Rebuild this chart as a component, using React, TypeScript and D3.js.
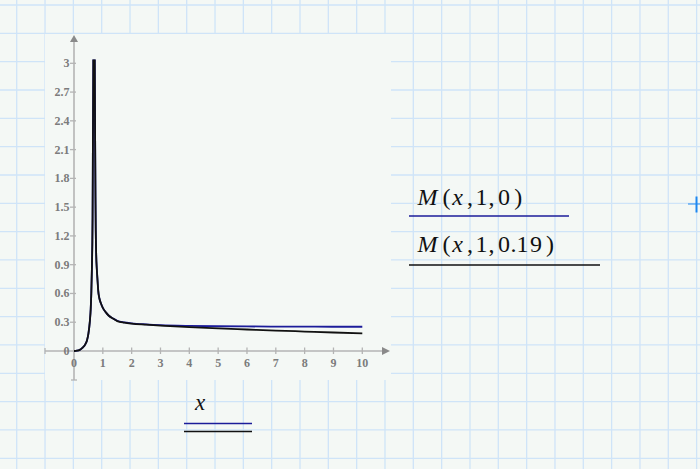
import React from 'react';
import * as d3 from 'd3';

// ---- data ----
const xValues = [0, 0.1, 0.2, 0.3, 0.4, 0.45, 0.5, 0.55, 0.58, 0.6, 0.62, 0.635, 0.645, 0.655, 0.67, 0.68, 0.695, 0.71, 0.72, 0.735, 0.745, 0.755, 0.77, 0.79, 0.82, 0.84, 0.88, 0.93, 1.0, 1.1, 1.2, 1.35, 1.5, 1.75, 2, 2.5, 3, 4, 5, 6, 7, 8, 9, 10];
const mUndamped = [0, 0.003, 0.012, 0.035, 0.075, 0.11, 0.18, 0.31, 0.44, 0.6, 0.85, 1.1, 1.4, 2.1, 3.0, 4.0, 6.0, 4.0, 3.0, 2.1, 1.6, 1.25, 1.0, 0.86, 0.72, 0.63, 0.55, 0.5, 0.45, 0.405, 0.37, 0.34, 0.315, 0.298, 0.289, 0.278, 0.27, 0.262, 0.258, 0.256, 0.255, 0.254, 0.253, 0.253];
const mDamped = [0, 0.003, 0.012, 0.035, 0.075, 0.11, 0.18, 0.31, 0.44, 0.6, 0.85, 1.1, 1.4, 2.1, 3.0, 4.0, 5.8, 4.0, 3.0, 2.1, 1.6, 1.25, 1.0, 0.86, 0.72, 0.63, 0.55, 0.5, 0.45, 0.405, 0.37, 0.338, 0.312, 0.295, 0.285, 0.274, 0.264, 0.248, 0.235, 0.224, 0.213, 0.203, 0.193, 0.184];
const xTicks = [0, 1, 2, 3, 4, 5, 6, 7, 8, 9, 10];
const xTickLabels = ['0', '1', '2', '3', '4', '5', '6', '7', '8', '9', '10'];
const yTicks = [0, 0.3, 0.6, 0.9, 1.2, 1.5, 1.8, 2.1, 2.4, 2.7, 3];
const yTickLabels = ['0', '0.3', '0.6', '0.9', '1.2', '1.5', '1.8', '2.1', '2.4', '2.7', '3'];
// legend glyphs: [char, italic]
const legend1 = [['M', true], ['(', false], ['x', true], [',', false], ['1', false], [',', false], ['0', false], [')', false]];
const legend2 = [['M', true], ['(', false], ['x', true], [',', false], ['1', false], [',', false], ['0', false], ['.', false], ['1', false], ['9', false], [')', false]];
// glyph centres
const legend1X = [427.5, 446.5, 457.5, 470, 481.5, 491.5, 504, 518.3];
const legend2X = [427.5, 446.5, 457.5, 470, 481.5, 491.5, 504, 513.5, 522.5, 536, 550];

const W = 700;
const H = 469;
const BG = '#f4f8f5';
const GRID = '#cfe4f8';
const AXIS = '#b4b4b4';
const BLUE = '#1c1c9a';
const BLACK = '#111111';

export default function App() {
  const x = d3.scaleLinear().domain([0, 10]).range([74, 362.3]);
  const y = d3.scaleLinear().domain([0, 3]).range([351, 63.3]);
  const pts = (vals: number[]) => xValues.map((v, i) => [v, vals[i]] as [number, number]);
  const line = d3.line<[number, number]>().x(d => x(d[0])).y(d => y(d[1])).curve(d3.curveMonotoneX);

  const vLines = d3.range(16.7, W, 28.33);
  const hLines = d3.range(5, H, 28.33);
  const plot = { x0: 45, x1: 391, y0: 34, y1: 380 };
  const clipTop = y(3.04);

  const fontMath = '"Liberation Serif", "DejaVu Serif", serif';

  return (
    <svg width={W} height={H} style={{ position: 'absolute', left: 0, top: 0, background: BG }}>
      <defs>
        <clipPath id="plotclip">
          <rect x={plot.x0} y={clipTop} width={plot.x1 - plot.x0} height={plot.y1 - clipTop} />
        </clipPath>
      </defs>
      <rect x={0} y={0} width={W} height={H} fill={BG} />
      {vLines.map((v, i) => <line key={'v' + i} x1={v} x2={v} y1={0} y2={H} stroke={GRID} strokeWidth={1.3} />)}
      {hLines.map((v, i) => <line key={'h' + i} x1={0} x2={W} y1={v} y2={v} stroke={GRID} strokeWidth={1.3} />)}
      <rect x={plot.x0} y={plot.y0} width={plot.x1 - plot.x0} height={plot.y1 - plot.y0} fill={BG} />

      {/* axes */}
      <line x1={45} x2={384} y1={y(0)} y2={y(0)} stroke={AXIS} strokeWidth={1.6} />
      <line x1={45} x2={45} y1={y(0) - 3} y2={y(0) + 3} stroke={AXIS} strokeWidth={1.3} />
      <path d={`M390,${y(0)} L382,${y(0) - 4} L382,${y(0) + 4} Z`} fill="#8a8a8a" />
      <line x1={x(0)} x2={x(0)} y1={380} y2={41} stroke={AXIS} strokeWidth={1.6} />
      <line x1={x(0) - 3} x2={x(0) + 3} y1={380} y2={380} stroke={AXIS} strokeWidth={1.3} />
      <path d={`M${x(0)},35 L${x(0) - 4},42 L${x(0) + 4},42 Z`} fill="#8a8a8a" />

      {xTicks.map((t, i) => (
        <g key={'xt' + i}>
          {i > 0 && <line x1={x(t)} x2={x(t)} y1={y(0) - 3.5} y2={y(0) + 3} stroke={AXIS} strokeWidth={1.3} />}
          <text x={x(t)} y={367} textAnchor="middle" fontFamily={fontMath} fontWeight="bold" fontSize={12} fill="#7c7c7c">{xTickLabels[i]}</text>
        </g>
      ))}
      {yTicks.map((t, i) => (
        <g key={'yt' + i}>
          {i > 0 && <line x1={x(0) - 4} x2={x(0) + 2} y1={y(t)} y2={y(t)} stroke={AXIS} strokeWidth={1.3} />}
          <text x={69.5} y={y(t) + 4} textAnchor="end" fontFamily={fontMath} fontWeight="bold" fontSize={12} fill="#7c7c7c">{yTickLabels[i]}</text>
        </g>
      ))}

      <g clipPath="url(#plotclip)">
        <path d={line(pts(mUndamped)) || ''} fill="none" stroke={BLUE} strokeWidth={1.8} />
        <path d={line(pts(mDamped)) || ''} fill="none" stroke={BLACK} strokeWidth={1.8} />
      </g>

      {/* legend */}
      {legend1.map((g, i) => (
        <text key={'l1' + i} x={legend1X[i]} y={205} textAnchor="middle" fontFamily={fontMath} fontSize={24} fill="#111" fontStyle={g[1] ? 'italic' : 'normal'}>{g[0] as string}</text>
      ))}
      <line x1={409} x2={569} y1={216} y2={216} stroke={BLUE} strokeWidth={1.6} />
      {legend2.map((g, i) => (
        <text key={'l2' + i} x={legend2X[i]} y={252} textAnchor="middle" fontFamily={fontMath} fontSize={24} fill="#111" fontStyle={g[1] ? 'italic' : 'normal'}>{g[0] as string}</text>
      ))}
      <line x1={409} x2={600} y1={265} y2={265} stroke={BLACK} strokeWidth={1.6} />

      {/* x label */}
      <text x={200} y={410} textAnchor="middle" fontFamily={fontMath} fontSize={23} fontStyle="italic" fill="#111">x</text>
      <line x1={184} x2={252} y1={423.5} y2={423.5} stroke={BLUE} strokeWidth={1.6} />
      <line x1={184} x2={252} y1={431.5} y2={431.5} stroke={BLACK} strokeWidth={1.6} />

      {/* cursor */}
      <line x1={696.5} x2={696.5} y1={196.5} y2={212.5} stroke="#1e88f0" strokeWidth={2} />
      <line x1={688} x2={700} y1={204} y2={204} stroke="#1e88f0" strokeWidth={1} />
    </svg>
  );
}
